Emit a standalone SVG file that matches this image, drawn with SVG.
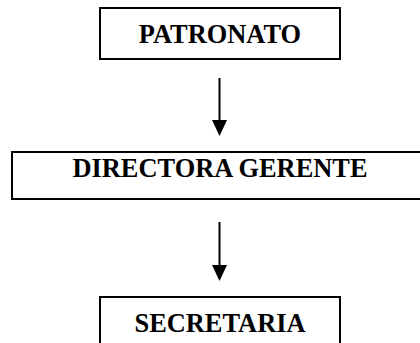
<svg xmlns="http://www.w3.org/2000/svg" width="420" height="343" viewBox="0 0 420 343">
<style>
.box{fill:#fff;stroke:#000;stroke-width:2}
.lbl{font-family:"Liberation Serif","Times New Roman",serif;font-weight:bold;font-size:26.4px;text-anchor:middle;fill:#000}
.con{stroke:#000;stroke-width:2;fill:none}
</style>
<rect width="420" height="343" fill="#fff"/>
<g id="patronato">
<rect class="box" x="100" y="8" width="240" height="51"/>
<text class="lbl" x="220" y="43">PATRONATO</text>
</g>
<g id="directora">
<rect class="box" x="12" y="152" width="420" height="47"/>
<text class="lbl" x="220" y="177">DIRECTORA GERENTE</text>
</g>
<g id="secretaria">
<rect class="box" x="100" y="297" width="240" height="60"/>
<text class="lbl" x="220" y="332">SECRETARIA</text>
</g>
<g id="connectors">
<line class="con" x1="219.5" y1="78" x2="219.5" y2="121"/>
<polygon points="212,120 227,120 219.5,136" fill="#000"/>
<line class="con" x1="219.5" y1="222" x2="219.5" y2="266"/>
<polygon points="212,265 227,265 219.5,281" fill="#000"/>
</g>
</svg>
